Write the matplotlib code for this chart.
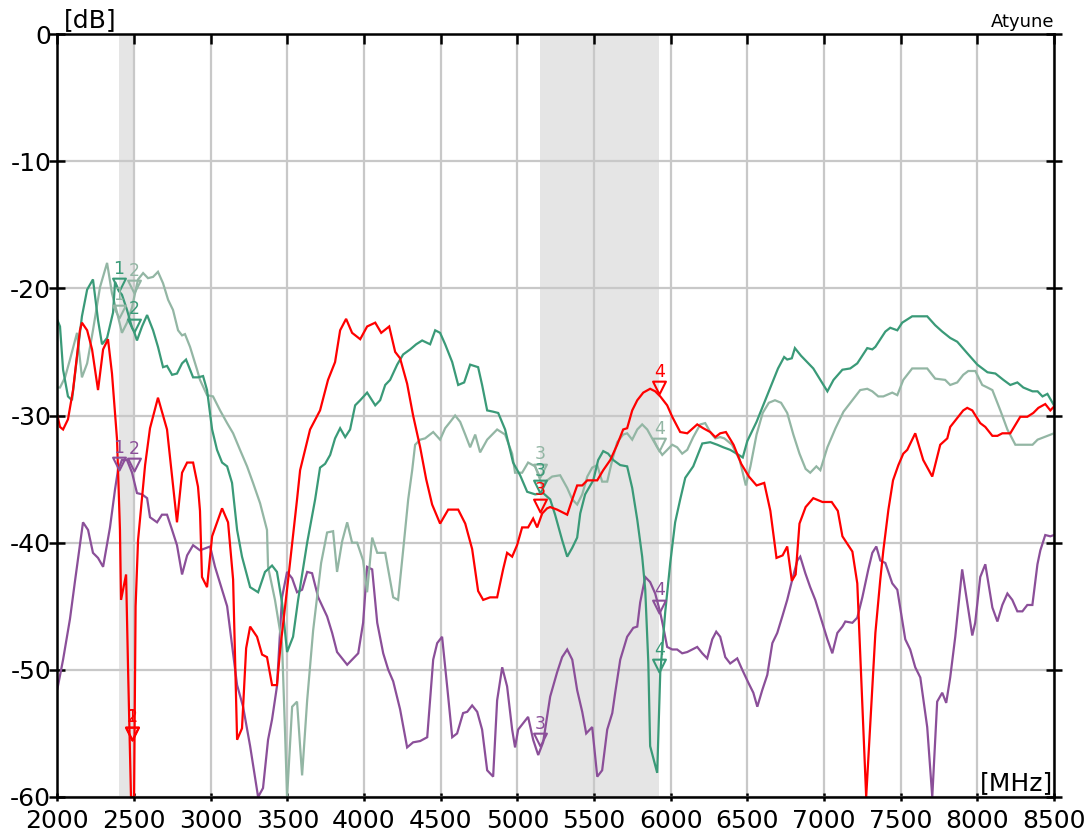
import numpy as np
import matplotlib
matplotlib.use("Agg")
import matplotlib.pyplot as plt
from matplotlib.path import Path

# ---------------- data ----------------
red_f = [2000, 2017, 2037, 2069, 2102, 2147, 2160, 2194, 2226, 2265, 2298, 2330, 2356, 2389, 2408, 2415,
         2448, 2461, 2480, 2487, 2500, 2510, 2526, 2572, 2604, 2656, 2715, 2780, 2813, 2846, 2885, 2917,
         2930, 2943, 2976, 3009, 3074, 3113, 3146, 3172, 3204, 3231, 3257, 3302, 3335, 3367, 3400, 3432,
         3453, 3505, 3563, 3583, 3648, 3713, 3765, 3811, 3844, 3883, 3922, 3975, 4020, 4073, 4112, 4164,
         4203, 4235, 4281, 4320, 4366, 4405, 4444, 4496, 4549, 4614, 4660, 4705, 4744, 4777, 4822, 4868,
         4907, 4933, 4966, 4998, 5031, 5070, 5103, 5129, 5162, 5194, 5214, 5259, 5325, 5358, 5390, 5423,
         5456, 5521, 5560, 5606, 5651, 5690, 5716, 5749, 5782, 5821, 5866, 5899, 5932, 5977, 6010, 6062,
         6108, 6173, 6212, 6258, 6291, 6323, 6360, 6410, 6460, 6510, 6560, 6610, 6650, 6690, 6730, 6760,
         6790, 6815, 6840, 6880, 6930, 6990, 7050, 7090, 7120, 7185, 7217, 7275, 7335, 7367, 7387, 7420,
         7450, 7485, 7517, 7543, 7595, 7647, 7706, 7758, 7804, 7823, 7869, 7908, 7934, 7967, 8019, 8052,
         8098, 8131, 8163, 8215, 8280, 8326, 8365, 8398, 8443, 8476, 8500]
red_db = [-30.0, -30.9, -31.1, -30.3, -28.0, -23.3, -22.7, -23.3, -24.8, -28.0, -24.8, -24.0, -26.7, -31.9, -39.0, -44.5,
          -42.5, -50.0, -60.0, -60.0, -60.0, -45.0, -39.8, -33.9, -31.0, -28.6, -31.1, -38.4, -34.5, -33.7, -33.7, -35.6,
          -37.5, -42.7, -43.5, -39.5, -37.3, -38.4, -42.9, -55.5, -54.6, -48.3, -46.6, -47.4, -48.8, -49.0, -51.2, -51.2,
          -48.4, -42.9, -36.6, -34.3, -31.1, -29.6, -27.2, -25.8, -23.3, -22.4, -23.5, -24.0, -23.0, -22.7, -23.5, -23.0,
          -25.0, -25.5, -27.5, -30.0, -32.5, -35.0, -37.0, -38.5, -37.4, -37.4, -38.5, -40.5, -43.8, -44.5, -44.3, -44.3,
          -42.1, -40.8, -41.1, -40.2, -38.8, -38.8, -38.1, -38.8, -37.7, -37.3, -37.2, -37.4, -37.8, -36.6, -35.5, -35.5,
          -35.1, -35.1, -34.3, -33.5, -32.3, -31.1, -31.0, -29.6, -28.8, -28.2, -27.9, -28.1, -28.5, -29.2, -30.1, -31.3,
          -31.4, -30.7, -31.0, -31.3, -31.7, -31.4, -31.3, -32.3, -33.8, -34.8, -35.5, -35.3, -37.5, -41.2, -41.0, -40.3,
          -43.0, -42.5, -38.5, -37.2, -36.5, -36.8, -36.8, -37.5, -39.5, -40.7, -43.2, -60.0, -47.1, -42.9, -40.6, -37.4,
          -35.1, -33.9, -33.0, -32.7, -31.4, -33.5, -34.8, -32.3, -31.8, -30.9, -30.2, -29.6, -29.4, -29.6, -30.6, -30.9,
          -31.6, -31.6, -31.4, -31.4, -30.1, -30.1, -29.8, -29.4, -29.1, -29.6, -29.3]

dkg_f = [2000, 2017, 2037, 2069, 2095, 2128, 2160, 2194, 2232, 2265, 2291, 2324, 2363, 2376, 2400, 2421,
         2454, 2487, 2500, 2519, 2552, 2585, 2624, 2656, 2689, 2715, 2748, 2780, 2813, 2839, 2865, 2885,
         2917, 2950, 2976, 3009, 3041, 3074, 3107, 3139, 3172, 3204, 3257, 3309, 3354, 3400, 3432, 3465,
         3498, 3537, 3570, 3629, 3681, 3713, 3746, 3779, 3811, 3844, 3877, 3909, 3942, 3975, 4020, 4073,
         4105, 4138, 4170, 4216, 4255, 4301, 4340, 4379, 4431, 4464, 4496, 4529, 4575, 4614, 4653, 4692,
         4744, 4770, 4803, 4842, 4875, 4920, 4972, 5018, 5064, 5116, 5168, 5214, 5246, 5292, 5325, 5358,
         5390, 5410, 5442, 5495, 5527, 5560, 5592, 5625, 5671, 5716, 5749, 5782, 5814, 5834, 5854, 5866,
         5912, 5932, 5964, 5997, 6029, 6062, 6095, 6147, 6206, 6258, 6304, 6343, 6388, 6430, 6470, 6500,
         6560, 6610, 6660, 6700, 6740, 6760, 6790, 6810, 6850, 6890, 6930, 6976, 7022, 7062, 7120, 7171,
         7217, 7282, 7315, 7335, 7400, 7432, 7478, 7510, 7575, 7673, 7725, 7771, 7823, 7869, 7934, 8000,
         8066, 8118, 8170, 8215, 8261, 8300, 8360, 8393, 8425, 8457, 8500]
dkg_db = [-22.5, -23.0, -26.4, -28.5, -28.8, -25.4, -22.2, -20.1, -19.3, -22.5, -24.4, -23.9, -21.9, -19.5, -20.2, -20.5,
          -21.7, -23.1, -23.4, -24.1, -23.0, -22.1, -23.3, -24.6, -26.2, -26.1, -26.8, -26.7, -25.9, -25.6, -26.4, -27.0,
          -27.0, -26.9, -28.0, -31.1, -32.7, -33.7, -34.0, -35.3, -39.0, -41.1, -43.5, -43.9, -42.3, -41.8, -42.3, -44.7,
          -48.6, -47.4, -44.5, -40.0, -36.6, -34.1, -33.8, -33.1, -31.8, -31.0, -31.7, -31.1, -29.2, -28.8, -28.2, -29.2,
          -28.8, -27.6, -27.2, -26.0, -25.2, -24.8, -24.4, -24.1, -24.4, -23.3, -23.5, -24.4, -25.8, -27.6, -27.4, -26.0,
          -26.2, -27.6, -29.6, -29.7, -29.8, -31.1, -33.7, -34.7, -36.0, -36.2, -36.1, -36.6, -37.8, -39.8, -41.1, -40.4,
          -39.6, -37.7, -36.2, -35.1, -33.5, -32.8, -33.0, -33.5, -33.9, -34.0, -35.7, -38.2, -41.1, -43.7, -49.4, -56.0,
          -58.1, -50.2, -45.5, -41.6, -38.4, -36.6, -34.9, -34.0, -32.2, -32.1, -32.3, -32.5, -32.7, -33.0, -33.3, -32.0,
          -30.5, -29.0, -27.5, -26.3, -25.4, -25.6, -25.5, -24.7, -25.3, -25.8, -26.3, -27.2, -28.1, -27.2, -26.4, -26.3,
          -25.9, -24.7, -24.8, -24.6, -23.4, -23.1, -23.3, -22.7, -22.2, -22.2, -22.9, -23.4, -23.9, -24.2, -25.1, -26.0,
          -26.6, -26.7, -27.2, -27.6, -27.4, -27.8, -28.1, -28.1, -28.5, -28.3, -29.2]

ltg_f = [2000, 2017, 2050, 2082, 2128, 2160, 2194, 2232, 2278, 2324, 2356, 2389, 2421, 2454, 2487, 2506,
         2526, 2559, 2591, 2624, 2656, 2689, 2722, 2754, 2787, 2813, 2832, 2865, 2911, 2930, 2976, 3015,
         3061, 3107, 3146, 3191, 3237, 3276, 3322, 3367, 3374, 3419, 3465, 3485, 3498, 3531, 3563, 3596,
         3629, 3668, 3720, 3759, 3798, 3824, 3857, 3890, 3922, 3955, 3994, 4020, 4053, 4086, 4138, 4190,
         4222, 4255, 4288, 4314, 4333, 4366, 4398, 4451, 4496, 4529, 4562, 4594, 4627, 4660, 4692, 4725,
         4757, 4803, 4868, 4920, 4966, 4985, 5031, 5070, 5116, 5162, 5194, 5227, 5279, 5325, 5358, 5390,
         5423, 5456, 5488, 5521, 5553, 5586, 5619, 5651, 5690, 5716, 5749, 5782, 5814, 5847, 5879, 5912,
         5945, 5977, 6010, 6042, 6075, 6108, 6147, 6193, 6225, 6258, 6291, 6323, 6350, 6400, 6450, 6490,
         6520, 6560, 6600, 6640, 6680, 6720, 6760, 6800, 6840, 6880, 6910, 6950, 6976, 7022, 7075, 7127,
         7185, 7236, 7282, 7315, 7354, 7387, 7445, 7478, 7517, 7575, 7673, 7725, 7790, 7823, 7869, 7908,
         7941, 7987, 8032, 8066, 8098, 8150, 8196, 8248, 8360, 8393, 8500]
ltg_db = [-27.8, -27.8, -27.0, -25.6, -23.5, -27.0, -25.9, -23.3, -19.9, -18.0, -20.4, -21.9, -23.5, -22.7, -21.5, -20.4,
          -19.3, -18.8, -19.2, -19.1, -18.7, -19.6, -20.9, -21.7, -23.3, -23.7, -23.6, -24.6, -26.4, -27.2, -28.4, -28.5,
          -29.6, -30.6, -31.4, -32.7, -34.0, -35.3, -36.9, -39.0, -41.9, -44.5, -47.9, -55.0, -60.0, -52.9, -52.5, -58.3,
          -52.4, -46.9, -41.6, -39.2, -39.1, -42.3, -39.9, -38.4, -40.0, -40.0, -41.4, -43.9, -39.6, -40.8, -40.8, -44.3,
          -44.5, -40.6, -36.6, -34.3, -32.3, -31.9, -31.8, -31.3, -31.9, -31.0, -30.5, -30.0, -30.5, -31.5, -32.5, -31.5,
          -32.9, -31.9, -31.1, -31.5, -33.0, -34.5, -34.5, -33.7, -34.0, -35.5, -35.1, -34.8, -34.7, -35.7, -36.6, -37.0,
          -36.2, -34.8, -34.1, -33.9, -35.2, -35.2, -33.5, -32.1, -31.5, -31.4, -31.9, -31.1, -30.7, -31.1, -31.8, -32.5,
          -33.1, -32.7, -32.3, -32.5, -33.0, -32.7, -31.7, -30.7, -30.6, -31.3, -31.8, -31.7, -31.8, -32.3, -33.5, -35.5,
          -34.0, -31.5, -29.8, -29.0, -28.8, -29.0, -29.8, -31.5, -33.0, -34.2, -34.5, -34.0, -34.3, -32.5, -31.0, -29.7,
          -28.8, -28.0, -27.9, -28.1, -28.5, -28.5, -28.2, -28.4, -27.2, -26.3, -26.3, -27.1, -27.2, -27.6, -27.4, -26.8,
          -26.5, -26.5, -27.6, -27.8, -28.0, -29.6, -31.1, -32.3, -32.3, -31.9, -31.4]

pur_f = [2000, 2037, 2082, 2115, 2147, 2167, 2200, 2232, 2265, 2298, 2343, 2376, 2395, 2421, 2454, 2487,
         2519, 2552, 2585, 2604, 2650, 2682, 2715, 2748, 2780, 2813, 2846, 2885, 2930, 2996, 3028, 3061,
         3107, 3146, 3172, 3211, 3257, 3309, 3341, 3374, 3400, 3432, 3465, 3498, 3531, 3563, 3596, 3629,
         3661, 3701, 3759, 3792, 3824, 3890, 3962, 3994, 4020, 4053, 4086, 4125, 4158, 4190, 4235, 4281,
         4320, 4366, 4412, 4451, 4477, 4509, 4542, 4575, 4607, 4646, 4673, 4705, 4738, 4770, 4803, 4842,
         4868, 4901, 4933, 4966, 4985, 5005, 5031, 5070, 5103, 5136, 5168, 5214, 5259, 5292, 5325, 5358,
         5390, 5423, 5449, 5488, 5521, 5553, 5586, 5619, 5638, 5671, 5716, 5756, 5782, 5801, 5834, 5866,
         5899, 5932, 5951, 5977, 6010, 6042, 6075, 6108, 6140, 6173, 6206, 6238, 6271, 6297, 6323, 6356,
         6388, 6434, 6467, 6506, 6539, 6565, 6597, 6630, 6663, 6695, 6728, 6760, 6793, 6826, 6845, 6878,
         6910, 6943, 6976, 7022, 7054, 7087, 7120, 7139, 7185, 7217, 7250, 7289, 7315, 7341, 7367, 7400,
         7445, 7478, 7530, 7562, 7595, 7628, 7673, 7706, 7738, 7771, 7797, 7823, 7856, 7901, 7934, 7967,
         7986, 8019, 8052, 8098, 8131, 8163, 8196, 8228, 8261, 8294, 8326, 8359, 8392, 8411, 8443, 8476, 8500]
pur_db = [-51.5, -49.2, -46.0, -43.0, -40.2, -38.4, -39.0, -40.8, -41.2, -41.9, -38.8, -35.8, -34.3, -33.5, -33.5, -34.5,
          -36.1, -36.2, -36.5, -38.0, -38.4, -37.8, -37.8, -39.0, -40.2, -42.5, -41.0, -40.2, -40.6, -40.3, -41.9, -43.2,
          -45.0, -48.7, -51.2, -52.9, -56.0, -60.0, -59.3, -55.5, -53.9, -51.3, -44.3, -42.3, -42.8, -43.9, -43.7, -42.3,
          -42.4, -44.3, -45.8, -47.1, -48.6, -49.6, -48.7, -46.3, -41.9, -42.1, -46.3, -48.7, -50.0, -50.9, -53.1, -56.1,
          -55.7, -55.6, -55.3, -49.2, -47.9, -47.4, -51.3, -55.3, -55.0, -53.4, -53.3, -52.8, -53.3, -54.7, -57.9, -58.4,
          -52.4, -49.8, -51.3, -54.7, -56.1, -54.7, -54.3, -53.7, -55.5, -56.7, -55.7, -52.1, -50.2, -49.0, -48.4, -49.2,
          -51.6, -53.3, -55.0, -54.5, -58.4, -57.9, -54.7, -53.4, -51.8, -49.2, -47.4, -46.7, -46.6, -44.7, -42.7, -43.1,
          -44.0, -45.5, -46.6, -48.2, -48.4, -48.4, -48.7, -48.6, -48.4, -48.2, -48.7, -49.1, -47.6, -47.0, -47.4, -49.0,
          -49.5, -49.1, -50.0, -51.0, -51.8, -52.9, -51.6, -50.4, -47.9, -47.1, -45.8, -44.5, -42.9, -41.4, -41.1, -42.4,
          -43.5, -44.5, -45.8, -47.6, -48.7, -47.1, -46.6, -46.2, -46.3, -45.9, -44.3, -42.1, -40.8, -40.3, -41.4, -41.6,
          -43.2, -43.7, -47.6, -48.4, -49.8, -50.6, -54.5, -60.0, -52.5, -51.8, -52.6, -50.6, -47.4, -42.1, -44.7, -47.3,
          -46.3, -42.7, -41.7, -45.1, -46.2, -44.9, -44.0, -44.5, -45.4, -45.4, -44.9, -44.9, -41.7, -40.6, -39.4, -39.5, -39.4]

# markers: labels, frequencies and levels per series
mk_labels = ["1", "2", "3", "4"]
red_mk_f = [2485, 2485, 5150, 5925]
red_mk_db = [-55.5, -55.5, -37.6, -28.3]
dkg_mk_f = [2400, 2500, 5150, 5925]
dkg_mk_db = [-20.2, -23.4, -36.1, -50.2]
ltg_mk_f = [2400, 2500, 5150, 5925]
ltg_mk_db = [-22.3, -20.4, -34.8, -32.8]
pur_mk_f = [2400, 2500, 5150, 5925]
pur_mk_db = [-34.3, -34.4, -56.0, -45.5]

bands = [(2400, 2500), (5150, 5925)]
x_ticks = list(range(2000, 8501, 500))
y_ticks = list(range(-60, 1, 10))

# ---------------- style ----------------
C_RED = "#ff0000"
C_DKG = "#3a9a78"
C_LTG = "#93b6a4"
C_PUR = "#8b4f99"

plt.rcParams["font.family"] = ["DejaVu Sans"]

fig = plt.figure(figsize=(10.89, 8.35), dpi=100)
ax = fig.add_axes([57.4 / 1089, 1 - 797 / 835, (1054 - 57.4) / 1089, (797 - 34) / 835])

for b0, b1 in bands:
    ax.axvspan(b0, b1, color="#e5e5e5", zorder=0.2, lw=0)

ax.set_axisbelow(True)
ax.grid(True, color="#c8c8c8", lw=1.6, zorder=0.3)

series = [
    (pur_f, pur_db, C_PUR, pur_mk_f, pur_mk_db),
    (ltg_f, ltg_db, C_LTG, ltg_mk_f, ltg_mk_db),
    (dkg_f, dkg_db, C_DKG, dkg_mk_f, dkg_mk_db),
    (red_f, red_db, C_RED, red_mk_f, red_mk_db),
]

tri = Path([(-0.5, 1.0), (0.5, 1.0), (0.0, 0.0), (-0.5, 1.0)],
           [Path.MOVETO, Path.LINETO, Path.LINETO, Path.CLOSEPOLY])

for f, d, c, mf, md in series:
    ax.plot(f, d, color=c, lw=1.6, zorder=2, solid_joinstyle="miter")

for f, d, c, mf, md in series:
    ax.plot(mf, md, linestyle="none", marker=tri, markersize=18.5,
            markerfacecolor="none", markeredgecolor=c, markeredgewidth=1.5, zorder=3)
    for lab, xf, yd in zip(mk_labels, mf, md):
        ax.annotate(lab, (xf, yd), xytext=(0, 12.5), textcoords="offset points",
                    ha="center", va="baseline", fontsize=12.5, color=c, zorder=4)

ax.set_xlim(2000, 8500)
ax.set_ylim(-60, 0)
ax.set_xticks(x_ticks)
ax.set_yticks(y_ticks)
ax.set_xticklabels([str(v) for v in x_ticks])
ax.set_yticklabels([str(v) for v in y_ticks])

for s in ax.spines.values():
    s.set_linewidth(1.8)
    s.set_color("black")
    s.set_zorder(5)

ax.tick_params(axis="x", which="both", bottom=True, top=True, direction="inout",
               length=6, width=1.8, labelsize=18, pad=5.5)
ax.tick_params(axis="y", which="both", left=True, right=True, direction="inout",
               length=11, width=1.8, labelsize=18, pad=-1)
# top ticks point inward
for t in ax.xaxis.get_major_ticks():
    t.tick2line.set_marker(3)  # TICKDOWN
    t.tick2line.set_markersize(7.5)

ax.text(0.006, 1.002, "[dB]", transform=ax.transAxes, ha="left", va="bottom", fontsize=18)
ax.text(1.0, 1.004, "Atyune", transform=ax.transAxes, ha="right", va="bottom", fontsize=13)
ax.text(0.999, 0.003, "[MHz]", transform=ax.transAxes, ha="right", va="bottom", fontsize=18, zorder=6)

fig.savefig("out.png", dpi=100)
